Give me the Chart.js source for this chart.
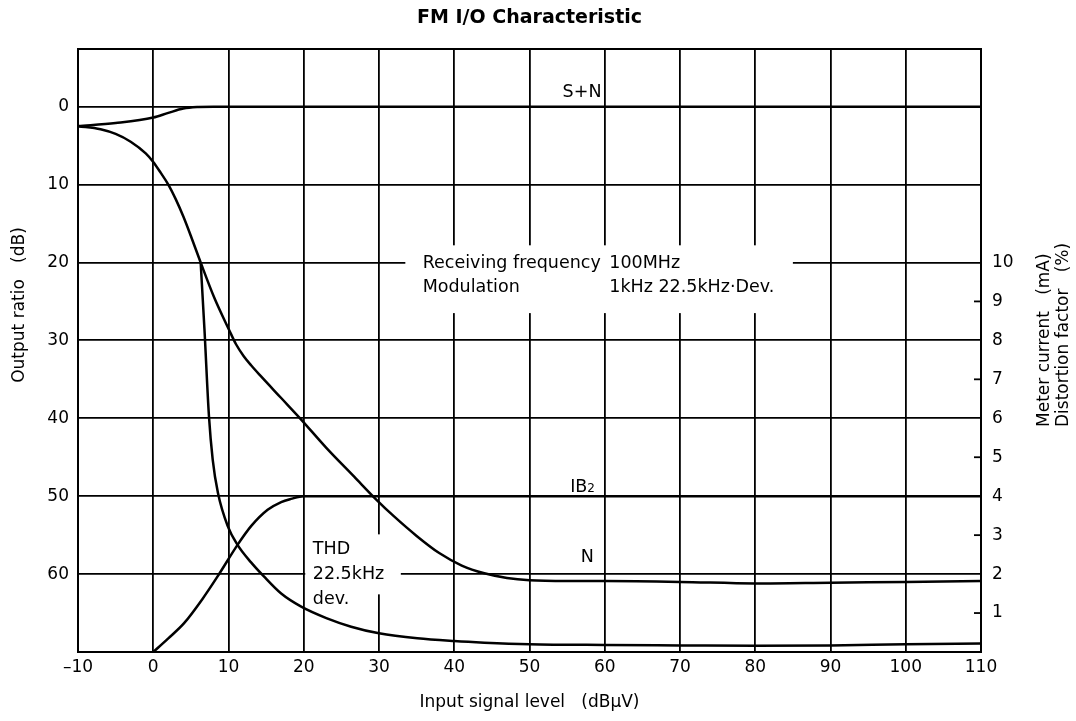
<!DOCTYPE html>
<html>
<head>
<meta charset="utf-8">
<script src="https://cdn.jsdelivr.net/npm/chart.js@4.4.1/dist/chart.umd.min.js"></script>
<style>
  body { margin: 0; background: #fff; }
</style>
</head>
<body>
<canvas id="chart" width="1076" height="721"></canvas>
<script>
const FONT = '"DejaVu Sans", sans-serif';

// axis ticks
const xTicks = [-10, 0, 10, 20, 30, 40, 50, 60, 70, 80, 90, 100, 110];
const xTickLabels = ['–10', '0', '10', '20', '30', '40', '50', '60', '70', '80', '90', '100', '110'];
const dbTicks = [0, 10, 20, 30, 40, 50, 60];
const rightTicks = [1, 2, 3, 4, 5, 6, 7, 8, 9, 10];
const rightMinor = [1, 3, 5, 7, 9];

// S+N output ratio (dB)
const snX = [-10, -5, 0, 2, 4, 6, 8, 20, 60, 110];
const snY = [2.5, 2.1, 1.4, 0.8, 0.25, 0.05, 0, 0, 0, 0];

// N output ratio (dB)
const nX = [-10, -7, -5, -3, -1, 0, 1, 2, 3, 4, 5, 6.3, 8.1, 10.1, 11, 12, 13, 14.3, 17, 19.6, 23, 26.7, 29.6, 32, 35, 38, 41, 44, 47, 50, 55, 60, 70, 80, 90, 100, 110];
const nY = [2.5, 2.9, 3.5, 4.5, 6.0, 7.1, 8.5, 10.0, 11.9, 14.1, 16.6, 20.0, 24.5, 28.7, 30.5, 32.0, 33.2, 34.6, 37.4, 40.1, 43.8, 47.5, 50.4, 52.6, 55.1, 57.3, 58.9, 59.9, 60.5, 60.8, 60.9, 60.9, 61.0, 61.2, 61.1, 61.0, 60.9];

// THD distortion factor (%)
const thdX = [6.3, 6.8, 7.4, 7.9, 8.6, 9.9, 11.2, 13, 14.7, 17, 19.6, 23, 26.3, 30, 35.1, 40, 44, 50, 60, 70, 80, 90, 100, 110];
const thdY = [10, 8.3, 6.06, 4.94, 4.08, 3.23, 2.75, 2.3, 1.94, 1.5, 1.17, 0.87, 0.65, 0.48, 0.35, 0.28, 0.24, 0.2, 0.18, 0.17, 0.16, 0.17, 0.2, 0.22];

// IB2 meter current (mA)
const ibX = [0, 2, 4.1, 6.5, 8.55, 11.2, 13, 15.2, 17, 18.3, 20, 30, 110];
const ibY = [0, 0.35, 0.74, 1.35, 1.94, 2.75, 3.23, 3.65, 3.85, 3.93, 4, 4, 4];

const pts = (xs, ys) => xs.map((x, i) => ({ x: x, y: ys[i] }));

function curve(label, xs, ys, axis) {
  return {
    label: label,
    data: pts(xs, ys),
    yAxisID: axis,
    borderColor: '#000',
    borderWidth: 2.5,
    pointRadius: 0,
    fill: false,
    cubicInterpolationMode: 'monotone'
  };
}

// text notes, placed in data units (x, dB)
const notes = [
  { lines: ['Receiving frequency', 'Modulation'], x: 35.8, y: [20.1, 23.2] },
  { lines: ['100MHz', '1kHz 22.5kHz·Dev.'], x: 60.6, y: [20.1, 23.2] },
  { lines: ['THD', '22.5kHz', 'dev.'], x: 21.2, y: [56.8, 60.0, 63.2] },
  { lines: ['S+N'], x: 54.4, y: [-1.8] },
  { lines: ['N'], x: 56.8, y: [57.9] }
];
const blanks = [
  { x0: 33.5, x1: 85.0, y0: 17.8, y1: 26.5 },
  { x0: 20.2, x1: 32.9, y0: 54.9, y1: 62.6 }
];

const decor = {
  id: 'decor',
  beforeDatasetsDraw(chart) {
    const { ctx, chartArea: a, scales } = chart;
    const sx = scales.x, sy = scales.y, sr = scales.y2;
    ctx.save();
    ctx.strokeStyle = '#000';
    ctx.lineWidth = 2;
    ctx.beginPath();
    ctx.moveTo(a.left, a.top);
    ctx.lineTo(a.right, a.top);
    ctx.stroke();

    ctx.lineWidth = 1.8;
    rightMinor.forEach(v => {
      const py = sr.getPixelForValue(v);
      ctx.beginPath();
      ctx.moveTo(a.right - 7, py);
      ctx.lineTo(a.right, py);
      ctx.stroke();
    });

    ctx.fillStyle = '#fff';
    blanks.forEach(b => {
      const x0 = sx.getPixelForValue(b.x0), x1 = sx.getPixelForValue(b.x1);
      const y0 = sy.getPixelForValue(b.y0), y1 = sy.getPixelForValue(b.y1);
      ctx.fillRect(x0, y0, x1 - x0, y1 - y0);
    });

    ctx.fillStyle = '#000';
    ctx.font = '17.5px ' + FONT;
    ctx.textAlign = 'left';
    ctx.textBaseline = 'middle';
    notes.forEach(n => {
      n.lines.forEach((t, i) => {
        ctx.fillText(t, sx.getPixelForValue(n.x), sy.getPixelForValue(n.y[i]));
      });
    });

    // IB2 with subscript
    const ix = sx.getPixelForValue(55.4), iy = sy.getPixelForValue(48.7);
    ctx.textBaseline = 'alphabetic';
    ctx.fillText('IB', ix, iy + 6);
    const w = ctx.measureText('IB').width;
    ctx.font = '12px ' + FONT;
    ctx.fillText('2', ix + w, iy + 6);
    ctx.restore();
  },
  afterDraw(chart) {
    const { ctx } = chart;
    ctx.save();
    ctx.fillStyle = '#000';
    ctx.font = '17px ' + FONT;
    ctx.textBaseline = 'middle';
    ctx.translate(20, 305);
    ctx.rotate(-Math.PI / 2);
    ctx.textAlign = 'center';
    ctx.fillText('Output ratio   (dB)', 0, 0);
    ctx.restore();

    ctx.save();
    ctx.fillStyle = '#000';
    ctx.font = '17px ' + FONT;
    ctx.textBaseline = 'middle';
    ctx.textAlign = 'left';
    ctx.translate(1045, 427);
    ctx.rotate(-Math.PI / 2);
    ctx.fillText('Meter current   (mA)', 0, 0);
    ctx.fillText('Distortion factor   (%)', 0, 19);
    ctx.restore();
  }
};

Chart.defaults.font.family = FONT;
Chart.defaults.color = '#000';

new Chart(document.getElementById('chart').getContext('2d'), {
  type: 'line',
  data: {
    datasets: [
      curve('S+N', snX, snY, 'y'),
      curve('N', nX, nY, 'y'),
      curve('THD', thdX, thdY, 'y2'),
      curve('IB2', ibX, ibY, 'y2')
    ]
  },
  options: {
    responsive: false,
    animation: false,
    layout: { padding: 0 },
    plugins: {
      legend: { display: false },
      tooltip: { enabled: false },
      title: {
        display: true,
        text: 'FM I/O Characteristic',
        fullSize: false,
        font: { size: 19, weight: 'bold' },
        color: '#000',
        padding: { top: 6.6, bottom: 19.6 }
      }
    },
    scales: {
      x: {
        type: 'linear',
        min: -10,
        max: 110,
        afterBuildTicks: s => { s.ticks = xTicks.map(v => ({ value: v })); },
        afterFit: s => { s.height = 69; },
        ticks: {
          autoSkip: false,
          maxRotation: 0,
          padding: 5,
          font: { size: 17 },
          callback: (v, i) => xTickLabels[i]
        },
        grid: { color: '#000', lineWidth: 1.8, drawTicks: false },
        border: { display: true, color: '#000', width: 2 },
        title: {
          display: true,
          text: 'Input signal level   (dBμV)',
          font: { size: 17 },
          padding: { top: 0, bottom: 8 }
        }
      },
      y: {
        type: 'linear',
        position: 'left',
        reverse: true,
        min: -7.4,
        max: 70,
        afterBuildTicks: s => { s.ticks = dbTicks.map(v => ({ value: v })); },
        afterFit: s => { s.width = 78; },
        ticks: { padding: 9, font: { size: 17 } },
        grid: { color: '#000', lineWidth: 1.8, drawTicks: false },
        border: { display: true, color: '#000', width: 2 }
      },
      y2: {
        type: 'linear',
        position: 'right',
        min: 0,
        max: 15.48,
        afterBuildTicks: s => { s.ticks = rightTicks.map(v => ({ value: v })); },
        afterFit: s => { s.width = 95; },
        ticks: { padding: 11, font: { size: 17 } },
        grid: { drawOnChartArea: false, drawTicks: false },
        border: { display: true, color: '#000', width: 2 }
      }
    }
  },
  plugins: [decor]
});
</script>
</body>
</html>
